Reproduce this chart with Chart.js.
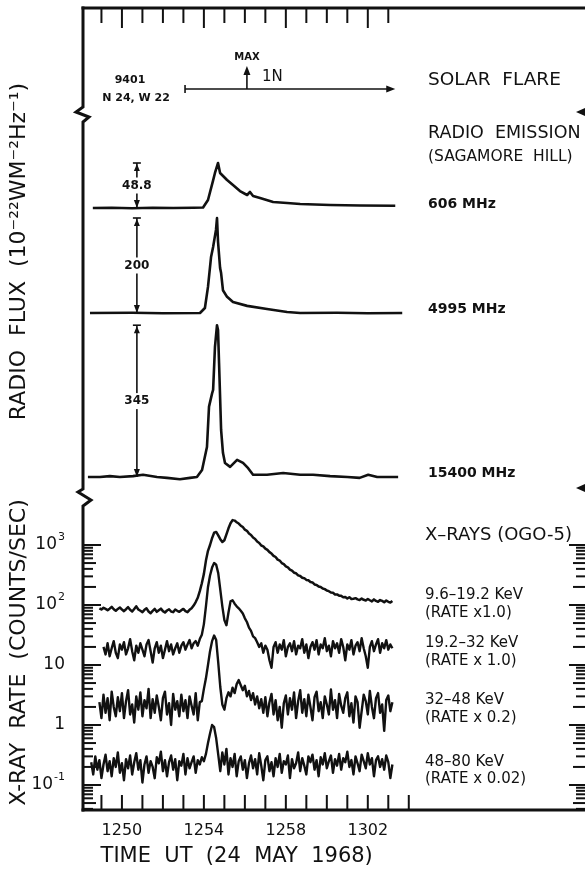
<!DOCTYPE html>
<html><head><meta charset="utf-8">
<script src="https://cdn.jsdelivr.net/npm/chart.js@4.4.1/dist/chart.umd.min.js"></script>
<style>html,body{margin:0;padding:0;background:#fff}#wrap{width:585px;height:869px}</style>
</head><body><div id="wrap"><canvas id="c" width="585" height="869"></canvas></div>
<script>
// ---------- time axis (minutes after 12:50 UT) ----------
const xTickValues = [0, 4, 8, 12];
const xTickLabels = ['1250', '1254', '1258', '1302'];
const xTitle = 'TIME  UT  (24  MAY  1968)';
const topTickMinutes = [-1,0,1,2,3,4,5,6,7,8,9,10,11,12,13];
const bottomTickMinutes = [-1,0,1,2,3,4,5,6,7,8,9,10,11,12,13,14];

// ---------- log axis (x-ray rate) ----------
const logTickValues = [0.1, 1, 10, 100, 1000];
const logTickBase = ['10', '1', '10', '10', '10'];
const logTickExp = ['-1', '', '', '2', '3'];
const logMinorMultipliers = [2,3,4,5,6,7,8,9];

// ---------- radio flux (10^-22 W m^-2 Hz^-1 above pre-flare level) ----------
const t606 = [-1.42,-0.5,0.5,1.5,2.5,3.5,3.96,4.2,4.45,4.54,4.69,4.79,5.13,5.42,5.76,6.11,6.25,6.40,6.74,7.38,8.06,8.70,10.16,11.63,13.34];
const f606 = [0,0.3,-0.2,0.3,0,0.2,0.5,8.7,30,38,48.8,38,30.4,24.9,18.4,14.1,17.4,13,10.8,6.5,5.4,4.3,3.3,2.7,2.5];

const t4995 = [-1.56,0.5,2.0,3.81,4.05,4.20,4.35,4.45,4.59,4.64,4.69,4.79,4.84,4.93,5.13,5.42,6.11,7.08,8.06,8.70,10.5,12.0,13.68];
const f4995 = [0,0.5,-0.5,0,10.5,55,118,139,175,200,150,95,84,48,34,23,15,8.4,2,0,0.5,-0.5,0];

const t15400 = [-1.66,-1.07,-0.59,-0.10,0.54,1.03,1.71,2.2,2.83,3.32,3.66,3.91,4.15,4.25,4.40,4.45,4.54,4.64,4.69,4.74,4.84,4.93,5.03,5.28,5.62,5.91,6.16,6.40,7.08,7.87,8.70,9.33,10.16,11.0,11.6,12.02,12.46,13.48];
const f15400 = [0,0,2,0,2,5,0,-2,-5,-2,0,16,68,160,190,198,295,345,334,259,107,55,32,23,39,32,20,5,5,9,5,5,2,0,-2,5,0,0];

// ---------- X-ray rates (counts/sec, as plotted after rate factor), sampled every 0.1 min ----------
const xStep = 0.1;
const start96 = -1.1;
const rate96 = [
 88,84,90,86,82,87,93,85,80,86,
 91,84,79,85,92,83,78,86,95,84,
 80,76,83,88,78,73,80,86,77,82,
 87,79,75,81,85,78,76,84,80,77,
 82,86,79,76,83,88,98,112,132,170,
 230,330,550,800,1000,1300,1600,1650,1450,1250,
 1120,1200,1500,1900,2300,2600,2550,2400,2280,2100,
 1990,1800,1720,1550,1470,1330,1260,1140,1080,980,
 950,870,830,760,720,660,630,570,550,500,
 480,440,425,390,375,345,338,312,305,285,
 280,262,258,242,238,220,216,203,199,188,
 184,174,170,161,160,150,150,143,142,135,
 136,128,135,126,127,130,124,121,128,122,
 119,126,120,115,124,117,113,121,117,111,
 119,113,110,117];
const start192 = -0.9;
const rate192 = [
 20,15,23,14,19,25,16,13,22,18,
 24,15,19,27,17,12,21,16,23,18,
 14,22,26,17,11,19,24,16,21,13,
 18,25,17,22,15,19,23,16,21,24,
 18,22,26,19,23,25,21,27,32,48,
 95,200,310,420,500,470,340,180,95,56,
 46,75,115,120,105,95,88,80,72,60,
 52,42,37,30,28,24,20,23,16,21,
 18,12,9,20,24,16,22,18,26,14,
 20,23,17,25,15,21,19,27,16,22,
 13,20,24,18,26,15,22,19,28,17,
 21,14,25,19,23,16,27,20,12,22,
 18,26,15,21,24,17,28,19,14,9,
 20,25,17,22,27,16,23,19,26,18,
 22,19];
const start32 = -1.1;
const rate32 = [
 2.4,1.3,3.2,1.6,2.8,1.2,3.6,2.0,1.4,2.9,
 1.7,3.4,1.3,2.5,3.8,1.5,2.2,1.1,3.0,1.8,
 3.5,1.4,2.6,1.9,4.0,1.3,2.7,1.6,3.1,2.0,
 1.2,2.8,3.6,1.5,2.3,1.0,3.3,1.8,2.5,1.4,
 3.2,1.7,2.6,1.3,3.0,2.1,1.5,3.4,1.2,2.4,
 2.5,4.0,6.0,10,17,25,31,26,11,4.3,
 2.2,1.8,2.8,3.5,3.0,4.2,3.4,4.8,5.6,4.6,
 3.8,4.5,3.0,3.7,2.6,3.4,2.2,3.0,1.9,2.7,
 1.6,2.9,1.4,2.4,3.3,1.5,2.6,1.2,2.0,0.9,
 2.3,3.1,1.5,2.8,1.8,3.5,1.3,2.5,3.8,1.6,
 2.7,1.4,3.2,2.0,1.2,2.9,3.6,1.7,2.4,1.3,
 3.0,2.2,1.5,3.9,1.8,2.6,1.3,3.3,2.1,1.6,
 2.8,3.5,1.4,2.3,1.1,3.0,2.4,0.9,1.7,3.2,
 2.5,1.5,3.7,2.0,1.3,2.8,3.4,1.6,2.2,0.8,
 2.6,3.1,1.7,2.4];
const start48 = -1.5;
const rate48 = [
 0.24,0.15,0.30,0.18,0.26,0.13,0.22,0.32,0.17,0.25,
 0.14,0.28,0.20,0.35,0.16,0.23,0.12,0.27,0.19,0.31,
 0.15,0.24,0.34,0.18,0.26,0.11,0.22,0.30,0.16,0.25,
 0.20,0.13,0.29,0.23,0.36,0.17,0.26,0.14,0.24,0.31,
 0.18,0.27,0.12,0.25,0.21,0.33,0.15,0.28,0.19,0.24,
 0.30,0.16,0.26,0.22,0.29,0.25,0.33,0.50,0.72,1.0,
 0.92,0.60,0.32,0.17,0.35,0.22,0.40,0.15,0.28,0.20,
 0.33,0.14,0.25,0.30,0.18,0.26,0.13,0.23,0.31,0.19,
 0.27,0.15,0.34,0.21,0.12,0.26,0.30,0.17,0.24,0.14,
 0.28,0.20,0.33,0.16,0.25,0.22,0.31,0.13,0.27,0.19,
 0.23,0.35,0.17,0.28,0.21,0.15,0.30,0.24,0.32,0.18,
 0.26,0.14,0.29,0.22,0.34,0.19,0.25,0.31,0.16,0.27,
 0.21,0.33,0.18,0.28,0.24,0.36,0.20,0.26,0.15,0.30,
 0.23,0.17,0.32,0.25,0.19,0.34,0.22,0.28,0.14,0.26,
 0.30,0.20,0.27,0.18,0.31,0.24,0.13,0.22];

// ---------- annotation values ----------
const radioDeltas = [48.8, 200, 345];
const radioNames = ['606 MHz', '4995 MHz', '15400 MHz'];

// ---------- layout / style (not data) ----------
const ink = '#111';
const FONT = '"DejaVu Sans", "Liberation Sans", sans-serif';
const W = 585, H = 869;
const plotLeft = 83, plotTop = 8, plotBottom = 810;
const xMin = -1.9, xMax = 22.6;
const radioMax = 487, radioWeight = 487, xrayWeight = 315;
const logMin = Math.pow(10, -1.4167), logMax = Math.pow(10, 3.8333);
const traceBase = [287, 182, 18];      // radio-panel offsets for each trace
const traceGain = [0.922, 0.475, 0.44];// radio-panel gain for each trace
const deltaMarkX = 0.73;               // minute where the delta bars stand
const breakLevel = 380;                // radio-panel level of upper axis break
const flareLevel = 406, flareFrom = 3.08, flareTo = 13.34, flareMax = 6.1;
const xTitleCenter = 5.6;              // minute under which the time title is centred
const logLabelRight = 65;

function radioPts(t, f, k) { return t.map((m, i) => ({x: m, y: traceBase[k] + traceGain[k] * f[i]})); }
function xrayPts(s, vals) { return vals.map((v, i) => ({x: +(s + xStep * i).toFixed(2), y: v})); }

const datasets = [
  {data: radioPts(t606, f606, 0), yAxisID: 'yR', borderWidth: 2.6},
  {data: radioPts(t4995, f4995, 1), yAxisID: 'yR', borderWidth: 2.6},
  {data: radioPts(t15400, f15400, 2), yAxisID: 'yR', borderWidth: 2.6},
  {data: xrayPts(start96, rate96), yAxisID: 'yX', borderWidth: 2.5},
  {data: xrayPts(start192, rate192), yAxisID: 'yX', borderWidth: 2.4},
  {data: xrayPts(start32, rate32), yAxisID: 'yX', borderWidth: 2.4},
  {data: xrayPts(start48, rate48), yAxisID: 'yX', borderWidth: 2.4}
].map(d => Object.assign(d, {borderColor: ink, pointRadius: 0, tension: 0, fill: false, borderJoinStyle: 'round'}));

function seg(ctx, x1, y1, x2, y2) { ctx.beginPath(); ctx.moveTo(x1, y1); ctx.lineTo(x2, y2); ctx.stroke(); }
function tri(ctx, a, b, c) { ctx.beginPath(); ctx.moveTo(a[0], a[1]); ctx.lineTo(b[0], b[1]); ctx.lineTo(c[0], c[1]); ctx.closePath(); ctx.fill(); }
function txt(ctx, s, x, y, font, align) { ctx.font = font; ctx.textAlign = align || 'left'; ctx.textBaseline = 'middle'; ctx.fillText(s, x, y); }

const framePlugin = {
  id: 'frame',
  afterDatasetsDraw(chart) {
    const {ctx, chartArea: a, scales} = chart;
    const x = scales.x, yR = scales.yR, yX = scales.yX;
    ctx.save();
    ctx.strokeStyle = ink; ctx.fillStyle = ink; ctx.lineCap = 'butt'; ctx.lineJoin = 'miter';
    // frame
    ctx.lineWidth = 3;
    seg(ctx, a.left - 1.5, a.top, W, a.top);
    seg(ctx, a.left - 1.5, a.bottom, W, a.bottom);
    const b1 = yR.getPixelForValue(breakLevel), b2 = yR.bottom + 2;
    ctx.beginPath();
    ctx.moveTo(a.left, a.top - 1.5);
    ctx.lineTo(a.left, b1 - 8); ctx.lineTo(a.left - 7, b1 - 3); ctx.lineTo(a.left + 6, b1 + 2); ctx.lineTo(a.left, b1 + 7);
    ctx.lineTo(a.left, b2 - 8); ctx.lineTo(a.left - 5, b2 - 5); ctx.lineTo(a.left + 8, b2 + 3); ctx.lineTo(a.left, b2 + 9);
    ctx.lineTo(a.left, a.bottom + 1.5);
    ctx.stroke();
    // time ticks
    ctx.lineWidth = 2;
    topTickMinutes.forEach(m => { const p = x.getPixelForValue(m); seg(ctx, p, a.top, p, a.top + (xTickValues.includes(m) ? 20 : 15)); });
    bottomTickMinutes.forEach(m => { const p = x.getPixelForValue(m); seg(ctx, p, a.bottom, p, a.bottom - 15); });
    // log ticks, both sides
    for (let e = -2; e <= 3; e++) {
      [1].concat(logMinorMultipliers).forEach(k => {
        const v = k * Math.pow(10, e);
        if (v < 0.04 || v > 1000) return;
        const p = yX.getPixelForValue(v);
        const major = k === 1;
        ctx.lineWidth = 2;
        seg(ctx, a.left, p, a.left + (major ? 18 : (k === 2 || k === 5 ? 13 : 10)), p);
        seg(ctx, W, p, W - (major ? 16 : (k === 2 || k === 5 ? 12 : 9)), p);
      });
    }
    // log labels: base with raised exponent
    logTickValues.forEach((v, i) => {
      const p = yX.getPixelForValue(v);
      ctx.textBaseline = 'middle'; ctx.textAlign = 'left';
      ctx.font = '11px ' + FONT; const we = logTickExp[i] ? ctx.measureText(logTickExp[i]).width + 1 : 0;
      ctx.font = '17px ' + FONT; const wb = ctx.measureText(logTickBase[i]).width;
      const x0 = logLabelRight - we - wb;
      ctx.fillText(logTickBase[i], x0, p);
      if (logTickExp[i]) { ctx.font = '11px ' + FONT; ctx.fillText(logTickExp[i], x0 + wb + 1, p - 8); }
    });
    // right-hand break markers
    [112, yR.bottom - 7].forEach(yy => tri(ctx, [W - 9, yy], [W, yy - 4], [W, yy + 4]));
    // delta bars at the radio traces
    const px = x.getPixelForValue(deltaMarkX);
    radioDeltas.forEach((d, k) => {
      const yb = yR.getPixelForValue(traceBase[k]);
      const yt = yR.getPixelForValue(traceBase[k] + traceGain[k] * d);
      ctx.lineWidth = 1.6;
      seg(ctx, px, yt, px, yb);
      seg(ctx, px - 4, yt, px + 4, yt);
      tri(ctx, [px, yt + 1], [px - 3, yt + 8], [px + 3, yt + 8]);
      tri(ctx, [px, yb], [px - 3, yb - 8], [px + 3, yb - 8]);
      ctx.font = 'bold 12px ' + FONT;
      const s = String(d), w = ctx.measureText(s).width, ym = (yt + yb) / 2;
      ctx.fillStyle = '#fff'; ctx.fillRect(px - w / 2 - 2, ym - 8, w + 4, 16);
      ctx.fillStyle = ink; txt(ctx, s, px, ym, 'bold 12px ' + FONT, 'center');
    });
    // flare duration arrow
    const fy = yR.getPixelForValue(flareLevel), fx0 = x.getPixelForValue(flareFrom), fx1 = x.getPixelForValue(flareTo), fm = x.getPixelForValue(flareMax);
    ctx.lineWidth = 1.6;
    seg(ctx, fx0, fy, fx1 - 6, fy);
    seg(ctx, fx0, fy - 4, fx0, fy + 4);
    tri(ctx, [fx1, fy], [fx1 - 9, fy - 3.5], [fx1 - 9, fy + 3.5]);
    seg(ctx, fm, fy, fm, fy - 16);
    tri(ctx, [fm, fy - 23], [fm - 3.5, fy - 14], [fm + 3.5, fy - 14]);
    txt(ctx, 'MAX', fm, fy - 32, 'bold 10px ' + FONT, 'center');
    txt(ctx, '1N', fm + 15, fy - 12, '15px ' + FONT, 'left');
    txt(ctx, '9401', 130, 80, 'bold 11px ' + FONT, 'center');
    txt(ctx, 'N 24, W 22', 136, 98, 'bold 11px ' + FONT, 'center');
    // right-hand labels
    const tx = 428;
    txt(ctx, 'SOLAR  FLARE', tx, 80, '18.5px ' + FONT);
    txt(ctx, 'RADIO  EMISSION', tx, 133, '17.5px ' + FONT);
    txt(ctx, '(SAGAMORE  HILL)', tx, 157, '15.5px ' + FONT);
    radioNames.forEach((s, k) => txt(ctx, s, tx, yR.getPixelForValue(traceBase[k]) - 4, 'bold 14px ' + FONT));
    const rx = 425;
    txt(ctx, 'X–RAYS (OGO-5)', rx, 535, '18px ' + FONT);
    txt(ctx, '9.6–19.2 KeV', rx, 595, '15px ' + FONT);
    txt(ctx, '(RATE x1.0)', rx, 613, '15px ' + FONT);
    txt(ctx, '19.2–32 KeV', rx, 643, '15px ' + FONT);
    txt(ctx, '(RATE x 1.0)', rx, 661, '15px ' + FONT);
    txt(ctx, '32–48 KeV', rx, 700, '15px ' + FONT);
    txt(ctx, '(RATE x 0.2)', rx, 718, '15px ' + FONT);
    txt(ctx, '48–80 KeV', rx, 762, '15px ' + FONT);
    txt(ctx, '(RATE x 0.02)', rx, 779, '15px ' + FONT);
    // time-axis title, centred under the time scale
    txt(ctx, xTitle, x.getPixelForValue(xTitleCenter), 857, '21px ' + FONT, 'center');
    ctx.restore();
  }
};

new Chart(document.getElementById('c').getContext('2d'), {
  type: 'line',
  data: {datasets},
  options: {
    responsive: false, animation: false, devicePixelRatio: 1,
    layout: {padding: {top: plotTop, left: 0, right: 0, bottom: 0}},
    plugins: {legend: {display: false}, tooltip: {enabled: false}},
    scales: {
      x: {
        type: 'linear', min: xMin, max: xMax,
        grid: {display: false, drawTicks: false}, border: {display: false},
        afterBuildTicks: s => { s.ticks = xTickValues.map(v => ({value: v})); },
        ticks: {callback: v => { const i = xTickValues.indexOf(v); return i >= 0 ? xTickLabels[i] : ''; },
                color: ink, font: {family: FONT, size: 16}, padding: 11, maxRotation: 0, autoSkip: false},
        title: {display: false},
        afterFit: s => { s.height = H - plotBottom; s.paddingLeft = 0; s.paddingRight = 0; }
      },
      yX: {
        type: 'logarithmic', position: 'left', stack: 'v', stackWeight: xrayWeight, min: logMin, max: logMax,
        grid: {display: false, drawTicks: false}, border: {display: false},
        afterBuildTicks: s => { s.ticks = logTickValues.map(v => ({value: v})); },
        ticks: {display: false},
        title: {display: true, text: 'X-RAY  RATE  (COUNTS/SEC)', color: ink, font: {family: FONT, size: 22}, padding: {top: 6, bottom: 0}},
        afterFit: s => { s.width = plotLeft; s.paddingTop = 0; s.paddingBottom = 0; }
      },
      yR: {
        type: 'linear', position: 'left', stack: 'v', stackWeight: radioWeight, min: 0, max: radioMax,
        grid: {display: false, drawTicks: false}, border: {display: false},
        ticks: {display: false},
        title: {display: true, text: 'RADIO  FLUX  (10⁻²²WM⁻²Hz⁻¹)', color: ink, font: {family: FONT, size: 22}, padding: {top: 6, bottom: 0}},
        afterFit: s => { s.width = plotLeft; s.paddingTop = 0; s.paddingBottom = 0; }
      }
    }
  },
  plugins: [framePlugin]
});
</script>
</body></html>
